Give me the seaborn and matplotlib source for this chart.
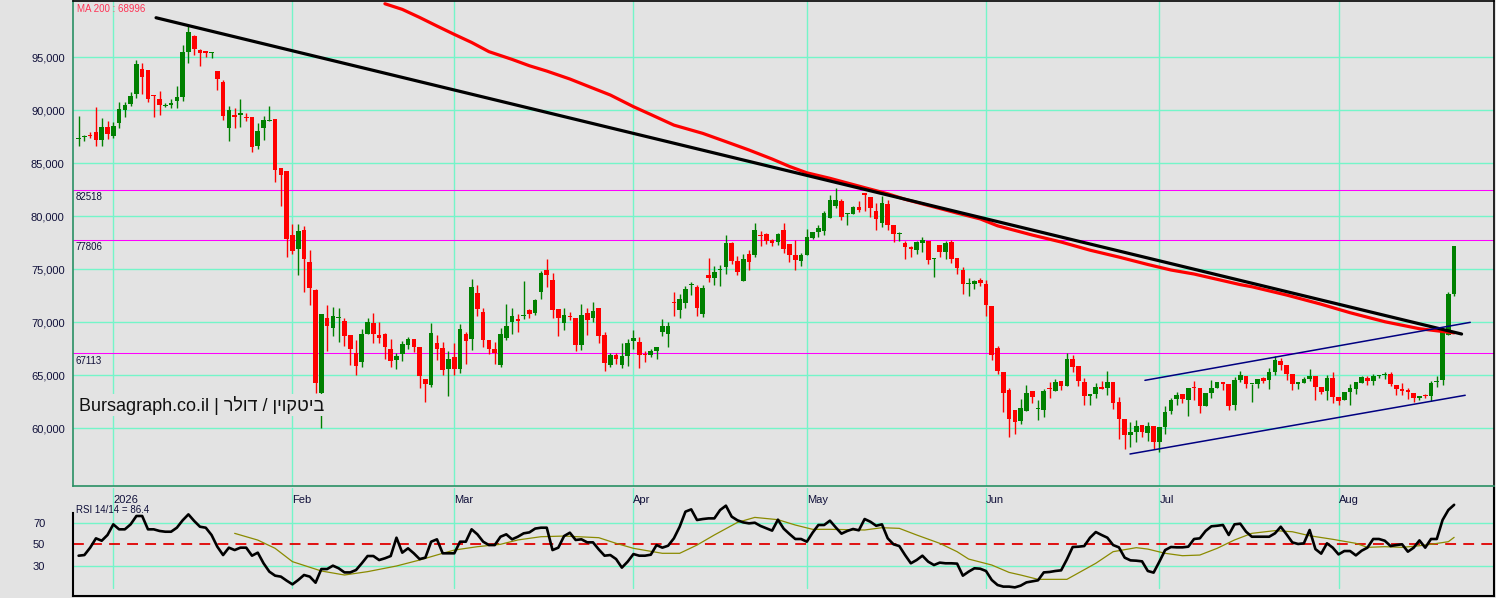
import numpy as np
import pandas as pd
import matplotlib
matplotlib.use("Agg")
import matplotlib.pyplot as plt
import matplotlib.ticker as ticker
import matplotlib.transforms as mtransforms
import seaborn as sns

# ---------------------------------------------------------------------------
# DATA  (daily candles, prices in thousands of USD)
# ---------------------------------------------------------------------------
START = "2025-12-26"

open_k = [
    87.3, 87.5, 87.7, 87.95, 87.2, 88.4, 87.57, 88.8, 90.0, 90.6,
    91.53, 93.9, 93.8, 91.35, 91.06, 90.4, 90.5, 90.9, 91.25, 95.5,
    97.0, 95.65, 95.55, 95.37, 93.73, 92.7, 88.36, 89.5, 89.6, 89.4,
    89.36, 86.66, 88.36, 89.0, 89.18, 84.55, 84.27, 78.23, 76.91, 78.7,
    75.68, 73.04, 63.36, 70.4, 69.49, 70.4, 70.12, 68.8, 67.13, 66.28,
    68.89, 69.93, 68.8, 68.92, 67.48, 66.47, 67.04, 67.85, 68.42, 67.7,
    64.68, 64.08, 68.07, 67.57, 65.62, 66.72, 65.62, 68.92, 68.45, 72.76,
    70.97, 68.36, 67.48, 65.97, 68.55, 70.05, 70.2, 70.6, 71.16, 70.9,
    72.89, 74.93, 73.99, 71.25, 69.96, 70.58, 70.4, 67.89, 70.87, 70.43,
    71.34, 68.8, 66.0, 66.91, 66.0, 66.85, 68.23, 68.14, 66.97, 66.94,
    67.32, 69.11, 68.92, 71.87, 71.19, 71.84, 73.48, 73.33, 70.81, 74.46,
    74.2, 74.9, 75.21, 77.48, 75.78, 73.89, 76.43, 76.34, 78.2, 78.32,
    77.79, 77.57, 78.7, 77.38, 76.34, 75.81, 76.34, 77.95, 78.51, 78.6,
    79.83, 81.0, 81.44, 80.17, 80.21, 80.87, 82.19, 81.81, 80.49, 79.36,
    81.15, 79.17, 78.3, 77.47, 77.0, 76.81, 77.47, 77.66, 75.93, 77.28,
    76.62, 77.57, 76.06, 74.93, 73.6, 73.61, 73.99, 73.61, 71.53, 67.57,
    65.31, 63.61, 61.72, 60.72, 61.66, 63.52, 61.8, 61.75, 63.72, 63.55,
    64.46, 63.99, 66.53, 65.87, 64.36, 63.04, 63.23, 63.89, 63.8, 64.36,
    62.48, 60.9, 59.4, 59.68, 60.34, 59.58, 60.24, 58.74, 60.15, 61.66,
    62.76, 63.23, 62.67, 63.82, 63.8, 62.1, 63.33, 63.8, 64.33, 64.18,
    62.22, 64.55, 64.96, 64.15, 64.2, 64.77, 64.58, 65.33, 66.37, 65.99,
    65.12, 64.2, 64.3, 64.67, 64.96, 63.86, 63.54, 64.74, 62.98, 62.69,
    63.45, 63.73, 64.3, 64.77, 64.49, 64.93, 65.05, 65.15, 64.11, 63.7,
    63.57, 63.35, 62.88, 63.1, 63.07, 64.39, 64.58, 68.83, 72.69,
]
high_k = [
    89.5, 87.7, 87.95, 90.3, 89.3, 89.0, 88.9, 90.8, 90.8, 91.7,
    94.74, 94.43, 93.8, 91.44, 91.8, 90.65, 91.1, 92.3, 96.2, 98.0,
    97.1, 95.75, 95.55, 95.5, 93.73, 92.85, 90.4, 90.2, 91.1, 89.77,
    89.36, 88.8, 89.5, 90.4, 89.18, 84.55, 84.3, 79.27, 79.27, 79.08,
    76.8, 73.14, 70.78, 71.63, 71.44, 71.35, 70.4, 68.8, 68.33, 69.36,
    70.4, 70.87, 70.02, 69.0, 68.42, 67.13, 68.23, 68.61, 68.42, 67.7,
    64.68, 69.93, 68.83, 68.17, 67.32, 68.07, 69.87, 69.1, 74.11, 73.52,
    71.34, 68.36, 68.17, 69.46, 71.72, 71.34, 70.78, 73.89, 71.25, 72.23,
    74.87, 76.0, 74.65, 71.25, 71.34, 70.97, 70.4, 71.72, 71.34, 71.91,
    71.34, 69.08, 67.1, 67.07, 68.04, 68.42, 69.27, 68.61, 67.29, 67.48,
    67.67, 70.34, 70.05, 72.86, 72.7, 73.42, 73.8, 73.52, 73.52, 76.06,
    75.31, 75.4, 78.23, 77.57, 76.25, 76.43, 76.81, 79.36, 78.6, 78.42,
    77.88, 78.45, 79.36, 77.38, 77.79, 76.53, 78.8, 78.51, 79.17, 80.49,
    82.0, 82.66, 81.62, 80.3, 80.96, 81.44, 82.19, 81.81, 81.25, 81.91,
    81.53, 79.17, 78.51, 77.66, 77.19, 77.66, 78.04, 77.66, 76.06, 77.28,
    77.66, 77.76, 76.06, 75.21, 74.17, 73.99, 74.17, 73.99, 71.53, 67.76,
    65.31, 63.8, 61.72, 62.76, 64.08, 63.52, 62.67, 63.7, 64.36, 64.65,
    64.46, 67.1, 66.91, 65.87, 64.74, 63.23, 64.27, 64.46, 65.4, 64.36,
    62.95, 60.9, 60.62, 60.81, 60.34, 60.62, 60.24, 60.15, 62.13, 62.85,
    63.42, 63.23, 63.8, 64.46, 63.8, 63.33, 64.55, 64.36, 64.33, 64.18,
    64.86, 65.43, 64.96, 64.17, 64.64, 64.86, 65.68, 66.81, 66.66, 65.99,
    65.12, 64.39, 64.86, 65.62, 64.96, 63.86, 65.05, 65.3, 62.98, 63.45,
    64.2, 64.39, 64.96, 64.96, 65.15, 65.05, 65.33, 65.33, 64.11, 64.3,
    63.83, 63.35, 63.07, 63.26, 64.49, 64.96, 69.2, 72.85, 77.19,
]
low_k = [
    86.6, 87.1, 87.4, 86.66, 86.66, 87.25, 87.4, 88.3, 89.4, 90.4,
    91.19, 91.53, 90.75, 89.33, 89.55, 90.27, 90.2, 90.2, 90.87, 94.5,
    95.2, 94.2, 95.05, 94.9, 91.9, 89.08, 87.1, 88.3, 88.45, 89.0,
    86.1, 86.34, 87.2, 89.0, 83.2, 81.0, 76.2, 76.44, 74.46, 72.9,
    71.63, 63.36, 60.0, 67.32, 68.73, 68.17, 67.79, 65.97, 65.06, 65.81,
    68.89, 68.07, 68.07, 66.56, 65.81, 65.6, 66.38, 67.48, 67.2, 63.83,
    62.51, 63.92, 66.47, 65.06, 63.07, 65.06, 65.18, 66.09, 67.41, 70.62,
    67.7, 67.04, 66.09, 65.81, 68.33, 68.89, 69.08, 70.34, 70.4, 70.68,
    72.23, 73.33, 70.43, 68.73, 69.3, 70.2, 67.32, 67.42, 68.83, 70.05,
    68.07, 65.43, 65.81, 66.06, 65.72, 65.91, 67.48, 65.72, 66.28, 66.75,
    66.56, 68.73, 67.7, 70.62, 70.43, 71.38, 72.6, 70.62, 70.53, 73.83,
    73.52, 73.45, 74.58, 75.53, 74.46, 73.89, 74.96, 76.15, 77.22, 77.38,
    77.19, 77.28, 76.56, 75.71, 74.93, 75.3, 76.3, 77.9, 78.04, 78.23,
    79.83, 80.77, 79.64, 79.17, 80.2, 80.4, 80.49, 79.93, 78.7, 78.98,
    78.7, 77.57, 77.66, 75.96, 76.15, 76.43, 76.62, 75.49, 74.27, 76.15,
    75.96, 75.59, 74.55, 72.66, 72.47, 73.13, 73.42, 70.59, 66.44, 65.12,
    61.53, 59.21, 59.49, 60.43, 61.66, 62.41, 60.81, 61.09, 62.85, 63.55,
    63.61, 63.99, 65.31, 63.99, 62.2, 62.2, 62.85, 63.7, 63.14, 61.82,
    59.02, 58.07, 58.26, 58.74, 59.21, 58.83, 58.07, 57.79, 59.49, 61.38,
    62.23, 62.38, 61.19, 62.67, 61.47, 62.1, 62.85, 63.8, 63.61, 61.74,
    61.74, 64.36, 63.83, 62.47, 63.83, 64.3, 63.73, 65.05, 65.52, 64.58,
    63.64, 63.73, 64.3, 64.49, 62.7, 63.2, 62.7, 62.41, 62.22, 62.69,
    62.22, 63.26, 64.3, 64.11, 64.11, 64.77, 64.67, 64.02, 63.17, 63.17,
    62.79, 62.5, 62.7, 62.88, 62.6, 63.92, 64.11, 68.83, 72.5,
]
close_k = [
    87.4, 87.6, 87.6, 87.2, 88.4, 87.8, 88.55, 90.1, 90.46, 91.3,
    94.36, 93.14, 91.06, 91.3, 90.5, 90.46, 90.7, 91.25, 95.5, 97.4,
    95.8, 95.43, 95.43, 95.5, 92.98, 89.5, 90.0, 89.4, 89.65, 89.3,
    86.56, 88.04, 89.08, 89.1, 84.36, 83.89, 77.82, 76.75, 78.6, 75.97,
    73.26, 64.24, 70.78, 69.68, 70.59, 70.5, 68.73, 67.48, 65.9, 68.89,
    70.02, 68.92, 68.55, 67.7, 66.38, 66.8, 67.95, 68.42, 67.67, 64.96,
    64.21, 69.02, 67.51, 65.53, 66.56, 65.62, 69.4, 68.26, 73.36, 71.28,
    68.36, 67.51, 67.07, 68.89, 69.65, 70.59, 70.15, 70.65, 70.81, 72.1,
    74.65, 74.49, 71.19, 70.43, 70.68, 70.5, 67.89, 70.68, 70.24, 71.06,
    68.73, 66.19, 66.91, 66.56, 66.82, 68.04, 68.51, 66.94, 66.94, 67.26,
    67.67, 69.65, 69.68, 71.8, 72.2, 73.14, 73.52, 71.38, 73.23, 74.2,
    74.74, 74.93, 77.48, 75.81, 74.74, 75.96, 75.71, 78.7, 78.13, 77.69,
    77.5, 78.32, 76.94, 76.34, 75.87, 76.34, 78.04, 78.51, 78.89, 80.3,
    81.53, 81.53, 79.93, 80.21, 80.87, 80.59, 82.0, 80.77, 79.74, 81.25,
    79.17, 78.32, 78.32, 77.1, 76.95, 77.57, 77.76, 75.87, 75.96, 76.62,
    77.47, 75.96, 75.12, 73.61, 73.65, 73.89, 73.7, 71.62, 66.91, 65.4,
    63.33, 60.9, 60.62, 61.91, 63.33, 62.95, 61.82, 63.52, 63.7, 64.36,
    63.99, 66.53, 65.78, 64.46, 63.04, 63.23, 63.89, 63.7, 64.36, 62.38,
    60.9, 59.4, 59.65, 60.24, 59.68, 60.24, 58.74, 60.15, 61.57, 62.67,
    63.14, 62.76, 63.8, 63.8, 62.1, 63.33, 63.8, 64.36, 64.18, 62.13,
    64.55, 65.02, 64.2, 64.17, 64.64, 64.49, 65.3, 66.44, 65.99, 65.15,
    64.2, 64.33, 64.67, 64.96, 63.92, 63.45, 64.74, 62.98, 62.6, 63.45,
    63.83, 64.39, 64.86, 64.49, 64.96, 64.96, 65.15, 64.2, 63.73, 63.54,
    63.45, 62.88, 63.07, 63.07, 64.3, 64.49, 69.2, 72.66, 77.19,
]

# RSI 14 (one value per candle)
rsi = [
    39.5, 40.1, 46.9, 55.5, 53.3, 58.6, 68.4, 63.8, 63.8, 68.4,
    76.1, 76.1, 63.8, 63.8, 62.3, 61.6, 61.6, 65.3, 72.1, 77.6,
    71.5, 66.2, 65.3, 58.6, 47.8, 40.1, 46.9, 44.7, 46.9, 46.9,
    39.5, 42.3, 32.5, 24.8, 21.1, 20.2, 16.5, 13.1, 17.1, 21.7,
    20.2, 14.6, 27.2, 27.2, 30.3, 27.9, 24.1, 24.1, 26.3, 32.5,
    39.2, 39.2, 35.5, 37.1, 39.2, 56.1, 42.3, 46.3, 41.7, 36.4,
    37.7, 52.4, 54.6, 41.7, 41.7, 41.7, 52.4, 52.4, 63.8, 59.2,
    52.4, 49.3, 49.3, 57.0, 59.2, 54.6, 57.0, 60.1, 61.0, 64.5,
    65.3, 65.3, 44.7, 46.9, 57.6, 60.7, 54.0, 54.6, 51.8, 51.8,
    45.3, 39.5, 40.1, 36.4, 28.5, 34.0, 41.0, 39.5, 39.5, 40.4,
    49.3, 46.9, 48.7, 55.5, 66.2, 80.1, 82.2, 72.4, 73.3, 73.9,
    73.9, 81.6, 85.6, 75.5, 72.1, 70.2, 69.3, 69.9, 66.9, 64.7,
    62.6, 72.7, 64.4, 59.5, 54.9, 54.9, 52.4, 60.7, 67.8, 67.8,
    71.8, 65.6, 59.8, 62.3, 64.1, 62.9, 73.3, 70.8, 67.1, 68.4,
    55.5, 50.0, 48.4, 40.1, 32.5, 35.5, 39.5, 34.0, 30.9, 33.1,
    32.5, 32.5, 32.2, 21.1, 24.8, 27.9, 27.5, 25.4, 17.1, 12.5,
    11.0, 11.0, 10.3, 11.9, 14.9, 15.9, 16.8, 24.1, 24.5, 25.4,
    26.0, 36.1, 47.5, 47.8, 48.4, 56.1, 61.3, 58.6, 56.1, 49.3,
    47.2, 37.7, 35.2, 34.9, 34.3, 25.4, 23.9, 34.0, 44.7, 47.5,
    47.2, 47.2, 47.8, 54.9, 55.5, 62.3, 66.6, 67.1, 67.8, 58.6,
    68.4, 69.0, 61.6, 57.0, 57.0, 57.0, 57.0, 60.1, 66.2, 59.2,
    51.8, 50.3, 50.9, 63.2, 45.6, 41.4, 50.9, 46.9, 40.7, 43.8,
    43.8, 39.8, 44.1, 46.9, 54.9, 54.9, 53.3, 48.4, 49.3, 50.0,
    43.2, 46.9, 53.6, 46.9, 54.9, 54.9, 72.4, 81.6, 86.4,
]

# RSI moving average (olive), read at selected candles
rsi_ma_day = [27, 31, 34, 37, 42, 46, 50, 55, 59, 63, 65, 69, 73, 76, 80,
              84, 90, 93, 96, 101, 104, 107, 110, 114, 117, 121, 124, 127,
              130, 136, 139, 142, 145, 149, 152, 154, 158, 161, 163, 166,
              171, 176, 179, 183, 185, 188, 191, 194, 197, 200, 203, 207,
              210, 213, 217, 221, 223, 226, 229, 232, 234, 237, 238]
rsi_ma = [60.1, 53.9, 46.3, 34.0, 25.4, 21.7, 24.8, 30.0, 35.5, 41.7, 44.7,
          47.8, 50.0, 54.0, 57.0, 57.6, 56.1, 50.9, 46.3, 41.7, 41.7, 49.3,
          58.6, 70.2, 74.8, 72.7, 67.8, 63.8, 63.8, 63.2, 65.3, 64.7, 58.6,
          50.9, 43.2, 36.4, 30.9, 24.1, 21.7, 17.7, 17.7, 32.5, 43.2, 46.9,
          45.6, 41.7, 39.5, 40.1, 46.3, 54.0, 60.1, 62.6, 61.6, 57.9, 54.6,
          50.9, 47.2, 47.8, 47.2, 48.7, 50.0, 52.4, 56.4]

# MA 200 (red), read at selected candles, thousands of USD
ma_day = [53, 56, 59, 62, 65, 68, 71, 75, 78, 81, 85, 88, 92, 96, 99, 103,
          108, 112, 116, 120, 123, 126, 130, 136, 140, 143, 148, 152, 156,
          159, 165, 170, 175, 180, 185, 189, 193, 197, 201, 203, 209, 215,
          220, 226, 232, 238]
ma200_k = [100.05, 99.52, 98.76, 97.95, 97.16, 96.4, 95.53, 94.8, 94.2, 93.7,
           92.95, 92.3, 91.44, 90.34, 89.6, 88.6, 87.82, 87.04, 86.25, 85.4,
           84.7, 84.1, 83.58, 82.7, 82.12, 81.6, 80.88, 80.3, 79.75, 79.1,
           78.23, 77.57, 76.8, 76.15, 75.45, 74.93, 74.55, 74.05, 73.55,
           73.35, 72.57, 71.7, 70.9, 70.05, 69.39, 69.0]

# drawn lines
levels = [82518, 77806, 67113]
trend_dates = ["2026-01-08 09:36", "2026-08-22 07:00"]
trend_price = [98730, 68890]
upper_dates = ["2026-06-28 12:00", "2026-08-23 19:00"]
upper_price = [64520, 69990]
lower_dates = ["2026-06-25 22:00", "2026-08-22 22:00"]
lower_price = [57570, 63110]

month_dates = ["2026-01-01", "2026-02-01", "2026-03-01", "2026-04-01",
               "2026-05-01", "2026-06-01", "2026-07-01", "2026-08-01"]
month_labels = ["2026", "Feb", "Mar", "Apr", "May", "Jun", "Jul", "Aug"]
price_ticks = [60000, 65000, 70000, 75000, 80000, 85000, 90000, 95000]
rsi_ticks = [30, 50, 70]
rsi_grid = [30, 70]

TITLE_HE = "ביטקוין / דולר"

# ---------------------------------------------------------------------------
# STYLE
# ---------------------------------------------------------------------------
BG = "#e3e3e3"
GRID = "#74f5c9"
UP, DOWN = "#008000", "#ff0000"
TXT = "#10103a"

sns.set_theme(style="white", rc={"axes.facecolor": BG, "figure.facecolor": BG})
plt.rcParams["font.family"] = ["Liberation Sans", "DejaVu Sans"]

df = pd.DataFrame({
    "date": pd.date_range(START, periods=len(close_k), freq="D"),
    "open": np.array(open_k) * 1000,
    "high": np.array(high_k) * 1000,
    "low": np.array(low_k) * 1000,
    "close": np.array(close_k) * 1000,
    "rsi": rsi,
})
months = pd.to_datetime(month_dates)

W, H = 1496, 598
fig = plt.figure(figsize=(W / 100, H / 100), dpi=100)
ax = fig.add_axes([73 / W, 1 - 486 / H, 1421 / W, 485 / H])
ax_rsi = fig.add_axes([73 / W, 2 / H, 1421 / W, 108 / H], sharex=ax)

x0 = df["date"].iloc[0]
ax.set_xlim(x0 - pd.Timedelta(days=0.97), x0 + pd.Timedelta(days=244.9))
ax.set_ylim(54550, 100310)

# ---------------------------------------------------------------------------
# PRICE PANEL
# ---------------------------------------------------------------------------
for m in months:
    ax.axvline(m, color=GRID, lw=1, zorder=1)
for p in price_ticks:
    ax.axhline(p, color=GRID, lw=1, zorder=1)
for lv in levels:
    ax.axhline(lv, color="#ff00ff", lw=0.75, zorder=2)
    ax.annotate(f"{lv}", xy=(0.0015, lv), xycoords=ax.get_yaxis_transform(),
                xytext=(0, -2), textcoords="offset points",
                ha="left", va="top", fontsize=7, color=TXT)

up = df["close"] >= df["open"]
colors = np.where(up, UP, DOWN)
body_lo = np.minimum(df["open"], df["close"])
body_h = np.maximum((df["close"] - df["open"]).abs(), 110)
ax.vlines(df["date"], df["low"], df["high"], colors=colors, lw=1, zorder=3)
ax.bar(df["date"], body_h, bottom=body_lo, width=0.8, color=colors,
       linewidth=0, zorder=4)

ma_dates = df["date"].iloc[ma_day].reset_index(drop=True)
sns.lineplot(x=ma_dates, y=np.array(ma200_k) * 1000, ax=ax, color="#ff0000",
             linewidth=2.3, estimator=None, sort=False, zorder=5)
sns.lineplot(x=pd.to_datetime(trend_dates), y=trend_price, ax=ax,
             color="black", linewidth=2.3, estimator=None, zorder=6)
for d, p in [(upper_dates, upper_price), (lower_dates, lower_price)]:
    sns.lineplot(x=pd.to_datetime(d), y=p, ax=ax, color="#000080",
                 linewidth=1.1, estimator=None, zorder=6)

ax.text(0.003, 0.994, "MA 200 : 68996", transform=ax.transAxes, ha="left",
        va="top", fontsize=7, color="#ff3355")
ax.text(0.0042, 0.167, "Bursagraph.co.il | " + TITLE_HE[::-1],
        transform=ax.transAxes, ha="left", va="center", fontsize=13,
        color="#111111", zorder=7,
        bbox=dict(facecolor=BG, edgecolor="none", pad=1))

ax.set_yticks(price_ticks)
ax.yaxis.set_major_formatter(ticker.FuncFormatter(lambda v, _: f"{v:,.0f}"))
ax.tick_params(axis="y", length=0, pad=6, labelsize=8, labelcolor=TXT)
ax.tick_params(axis="x", length=0, labelbottom=False)
ax.set_xlabel("")
ax.set_ylabel("")
for side in ["top", "right"]:
    ax.spines[side].set_color("black")
    ax.spines[side].set_linewidth(1.2)
for side in ["left", "bottom"]:
    ax.spines[side].set_color("#2a9064")
    ax.spines[side].set_linewidth(1.2)

# ---------------------------------------------------------------------------
# RSI PANEL
# ---------------------------------------------------------------------------
ax_rsi.set_ylim(2.35, 101.9)
for m in months:
    ax_rsi.axvline(m, ymin=0.074, ymax=1, color=GRID, lw=1, zorder=1)
for g in rsi_grid:
    ax_rsi.axhline(g, color=GRID, lw=1, zorder=1)
ax_rsi.axhline(50, color="#e00000", lw=1.3, dashes=(6, 4), zorder=2)

sns.lineplot(x=df["date"].iloc[rsi_ma_day].reset_index(drop=True), y=rsi_ma,
             ax=ax_rsi, color="#8a8a00", linewidth=0.9, estimator=None,
             sort=False, zorder=3)
sns.lineplot(data=df, x="date", y="rsi", ax=ax_rsi, color="black",
             linewidth=1.9, estimator=None, sort=False, zorder=4)

lab_tr = mtransforms.blended_transform_factory(ax_rsi.transData, ax_rsi.transAxes)
for m, lab in zip(months, month_labels):
    ax_rsi.text(m, 0.885, lab, transform=lab_tr, ha="left", va="center",
                fontsize=8, color=TXT)
ax_rsi.text(0.0021, 0.80, "RSI 14/14 = 86.4", transform=ax_rsi.transAxes,
            ha="left", va="center", fontsize=7, color=TXT)

ax_rsi.set_yticks(rsi_ticks)
ax_rsi.tick_params(axis="y", length=0, pad=20, labelsize=8, labelcolor=TXT)
ax_rsi.tick_params(axis="x", length=0, labelbottom=False)
ax_rsi.set_xlabel("")
ax_rsi.set_ylabel("")
ax_rsi.spines["top"].set_visible(False)
for side in ["left", "right", "bottom"]:
    ax_rsi.spines[side].set_color("black")
    ax_rsi.spines[side].set_linewidth(1.5)
ax_rsi.spines["left"].set_bounds(2.35, 79)

fig.savefig("out.png", dpi=100, facecolor=BG)
